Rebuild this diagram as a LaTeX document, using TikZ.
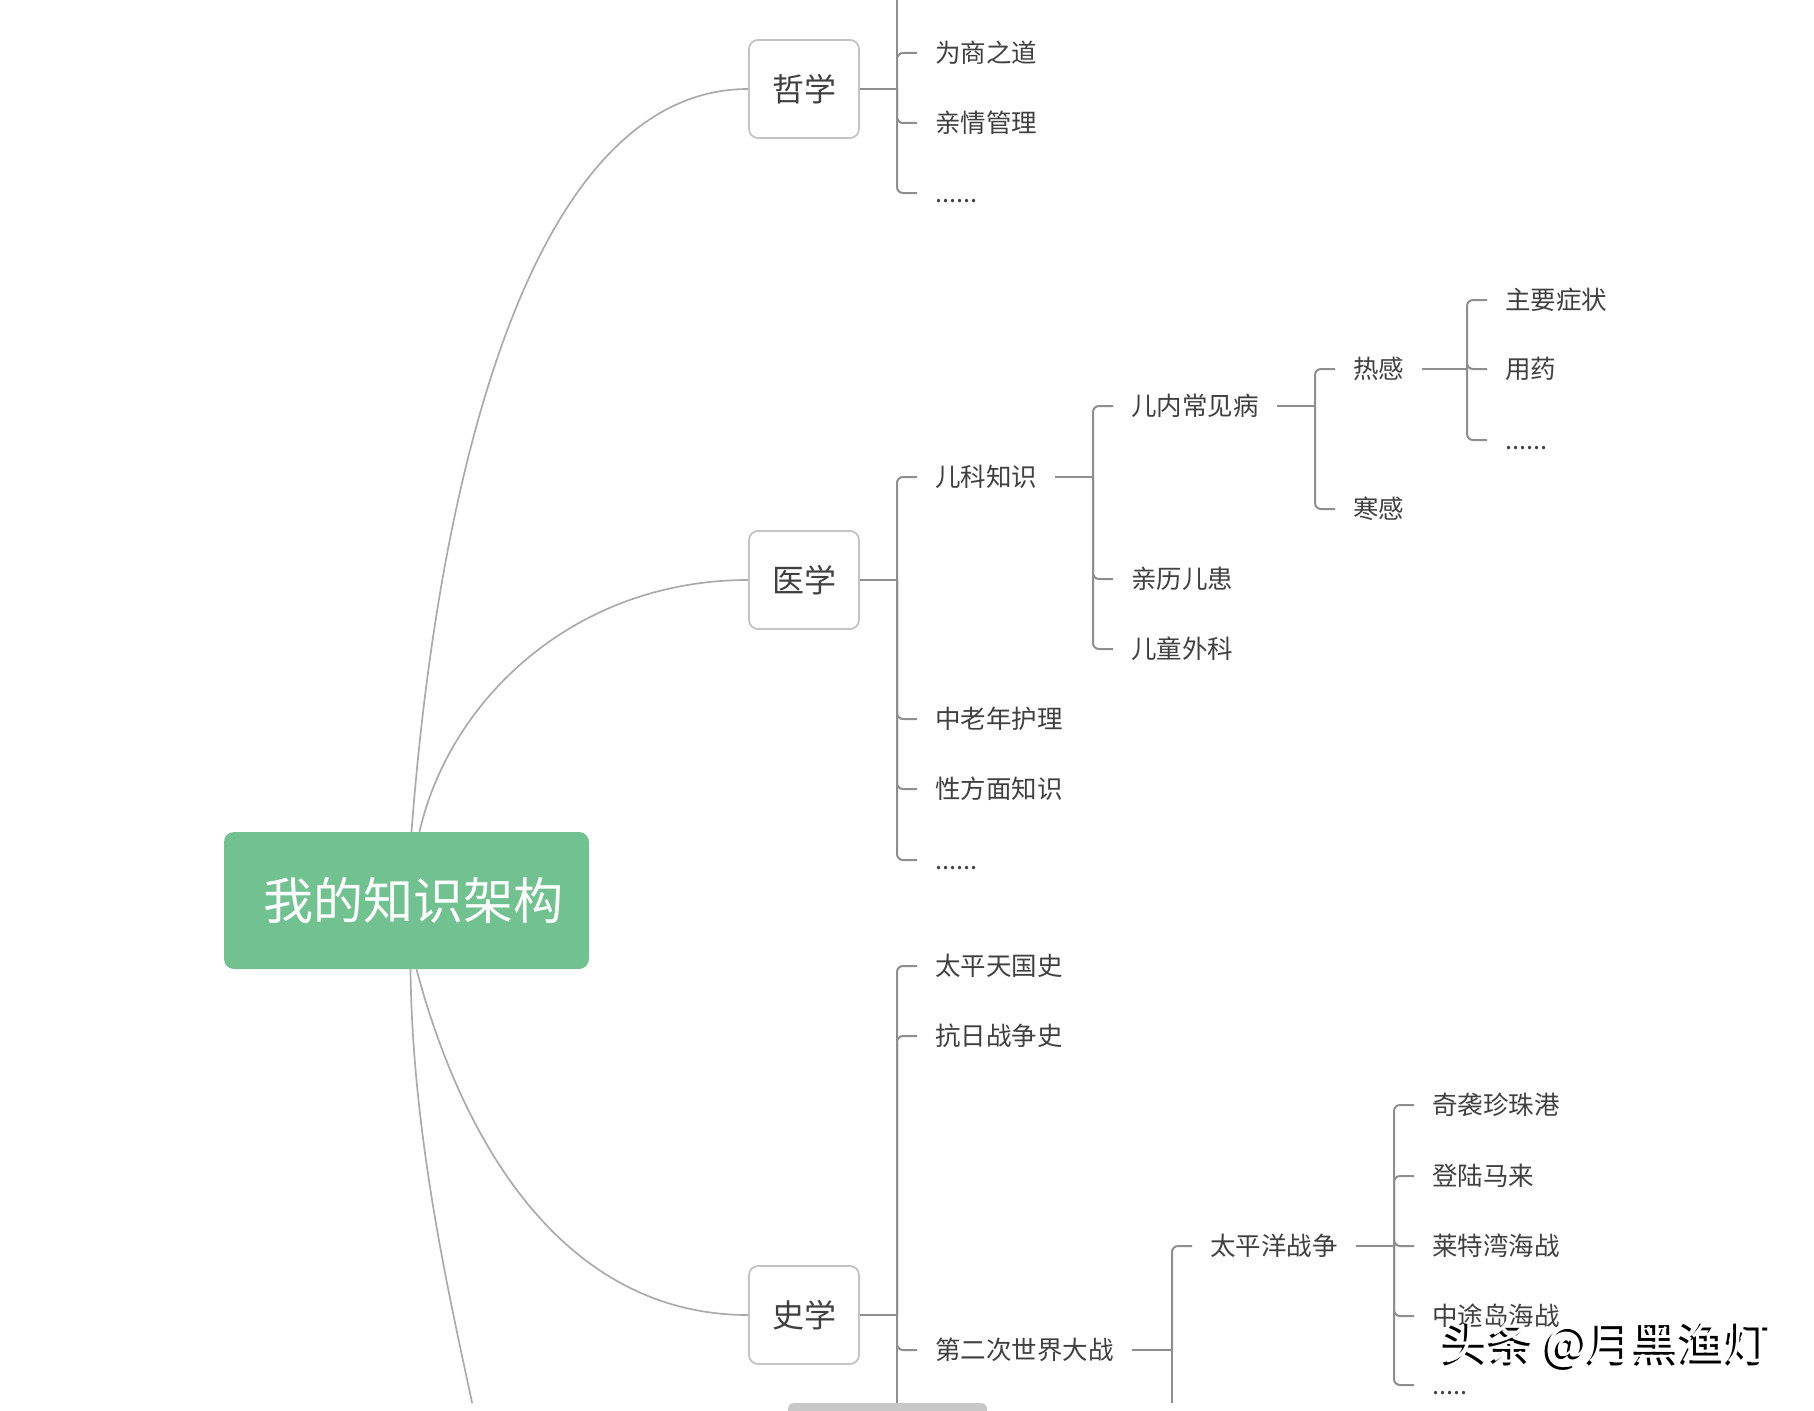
\documentclass[tikz,border=0pt]{standalone}
\usepackage{fontspec}
\setmainfont{Noto Sans CJK SC}
\definecolor{rootgreen}{HTML}{71C191}
\definecolor{inkgray}{HTML}{404040}
\definecolor{linegray}{HTML}{8E8E8E}
\definecolor{trunkgray}{HTML}{ABABAB}
\definecolor{boxgray}{HTML}{C4C4C4}
\definecolor{bargray}{HTML}{C8C8C8}
\tikzset{
  root/.style={fill=rootgreen, rounded corners=10pt, minimum width=365pt, minimum height=137pt,
    text=white, font=\fontsize{50}{60}\selectfont},
  topic/.style={draw=boxgray, line width=1.8pt, fill=white, rounded corners=9pt,
    minimum width=110pt, minimum height=98pt, text=inkgray, font=\fontsize{32}{38}\selectfont},
  leaf/.style={anchor=west, inner xsep=18pt, inner ysep=2pt, text=inkgray,
    text height=22.4pt, text depth=3.1pt, font=\fontsize{25.5}{30}\selectfont},
  trunk/.style={draw=trunkgray, line width=1.7pt},
  link/.style={draw=linegray, line width=2pt, rounded corners=6pt},
  wmark/.style={font=\fontsize{46}{52}\selectfont}
}

\begin{document}
\begin{tikzpicture}[x=1pt,y=-1pt]
\useasboundingbox (0,0) rectangle (1814,1410);
\begin{scope}
\clip (0,0) rectangle (1814,1402);
% centre and main topics
\node[root] (root) at (406.5,900.5) {\hspace*{14pt}我的知识架构};
\node[topic] (zx) at (804,89) {哲学};
\node[topic] (yx) at (804,580) {医学};
\node[topic] (sx) at (804,1315) {史学};
\coordinate (down) at (480,1440);
\draw[trunk] ([xshift=5pt]root.north) .. controls +(29,-382) and +(-209,0) .. (zx.west);
\draw[trunk] ([xshift=13pt]root.north) .. controls +(30,-132) and +(-174,0) .. (yx.west);
\draw[trunk] ([xshift=10pt]root.south) .. controls +(48,181) and +(-180,0) .. (sx.west);
\draw[trunk] ([xshift=4pt]root.south) .. controls +(2,180) and +(-25,-120) .. (down);

% 哲学
\coordinate (zxbus) at (897,89);
\coordinate (zxup) at (897,-20);
\node[leaf] (zx1) at (917,53) {为商之道};
\node[leaf] (zx2) at (917,123) {亲情管理};
\node[leaf] (zx3) at (917,193) {......};
\draw[link] (zx.east) -- (zxbus);
\draw[link] (zxbus) -- (zxup);
\foreach \n in {zx1,zx2,zx3} \draw[link] (zxbus) |- (\n.west);

% 医学
\coordinate (yxbus) at (897,580);
\node[leaf] (ek) at (917,477) {儿科知识};
\node[leaf] (zl) at (917,719) {中老年护理};
\node[leaf] (xf) at (917,789) {性方面知识};
\node[leaf] (yx4) at (917,860) {......};
\draw[link] (yx.east) -- (yxbus);
\foreach \n in {ek,zl,xf,yx4} \draw[link] (yxbus) |- (\n.west);

\coordinate (ekbus) at (1093,477);
\node[leaf] (nc) at (1113,406) {儿内常见病};
\node[leaf] (qh) at (1113,579) {亲历儿患};
\node[leaf] (wk) at (1113,649) {儿童外科};
\draw[link] (ek.east) -- (ekbus);
\foreach \n in {nc,qh,wk} \draw[link] (ekbus) |- (\n.west);

\coordinate (ncbus) at (1315,406);
\node[leaf] (rg) at (1335,369) {热感};
\node[leaf] (hg) at (1335,509) {寒感};
\draw[link] (nc.east) -- (ncbus);
\foreach \n in {rg,hg} \draw[link] (ncbus) |- (\n.west);

\coordinate (rgbus) at (1467,369);
\node[leaf] (zy) at (1487,300) {主要症状};
\node[leaf] (yy) at (1487,369) {用药};
\node[leaf] (rg3) at (1487,440) {......};
\draw[link] (rg.east) -- (rgbus);
\foreach \n in {zy,yy,rg3} \draw[link] (rgbus) |- (\n.west);

% 史学
\coordinate (sxbus) at (897,1315);
\coordinate (sxdown) at (897,1440);
\node[leaf] (tp) at (917,966) {太平天国史};
\node[leaf] (kr) at (917,1036) {抗日战争史};
\node[leaf] (ez) at (917,1350) {第二次世界大战};
\draw[link] (sx.east) -- (sxbus);
\draw[link] (sxbus) -- (sxdown);
\foreach \n in {tp,kr,ez} \draw[link] (sxbus) |- (\n.west);

\coordinate (ezbus) at (1172,1350);
\coordinate (ezdown) at (1172,1440);
\node[leaf] (tw) at (1192,1246) {太平洋战争};
\draw[link] (ez.east) -- (ezbus);
\draw[link] (ezbus) -- (ezdown);
\draw[link] (ezbus) |- (tw.west);

\coordinate (twbus) at (1394,1246);
\node[leaf] (qx) at (1414,1105) {奇袭珍珠港};
\node[leaf] (dl) at (1414,1176) {登陆马来};
\node[leaf] (lt) at (1414,1246) {莱特湾海战};
\node[leaf] (zt) at (1414,1316) {中途岛海战};
\node[leaf] (tw5) at (1414,1385) {.....};
\draw[link] (tw.east) -- (twbus);
\foreach \n in {qx,dl,lt,zt,tw5} \draw[link] (twbus) |- (\n.west);

% watermark
\node[wmark, text=black] (wm) at (1605,1347) {头条 @月黑渔灯};
\node[wmark, text=white] (wmhi) at (1608,1344) {头条 @月黑渔灯};
\end{scope}
\begin{scope}
\clip (0,0) rectangle (1814,1410);
\fill[bargray, rounded corners=6pt] (788,1403) rectangle (987,1424);
\end{scope}
\end{tikzpicture}
\end{document}
